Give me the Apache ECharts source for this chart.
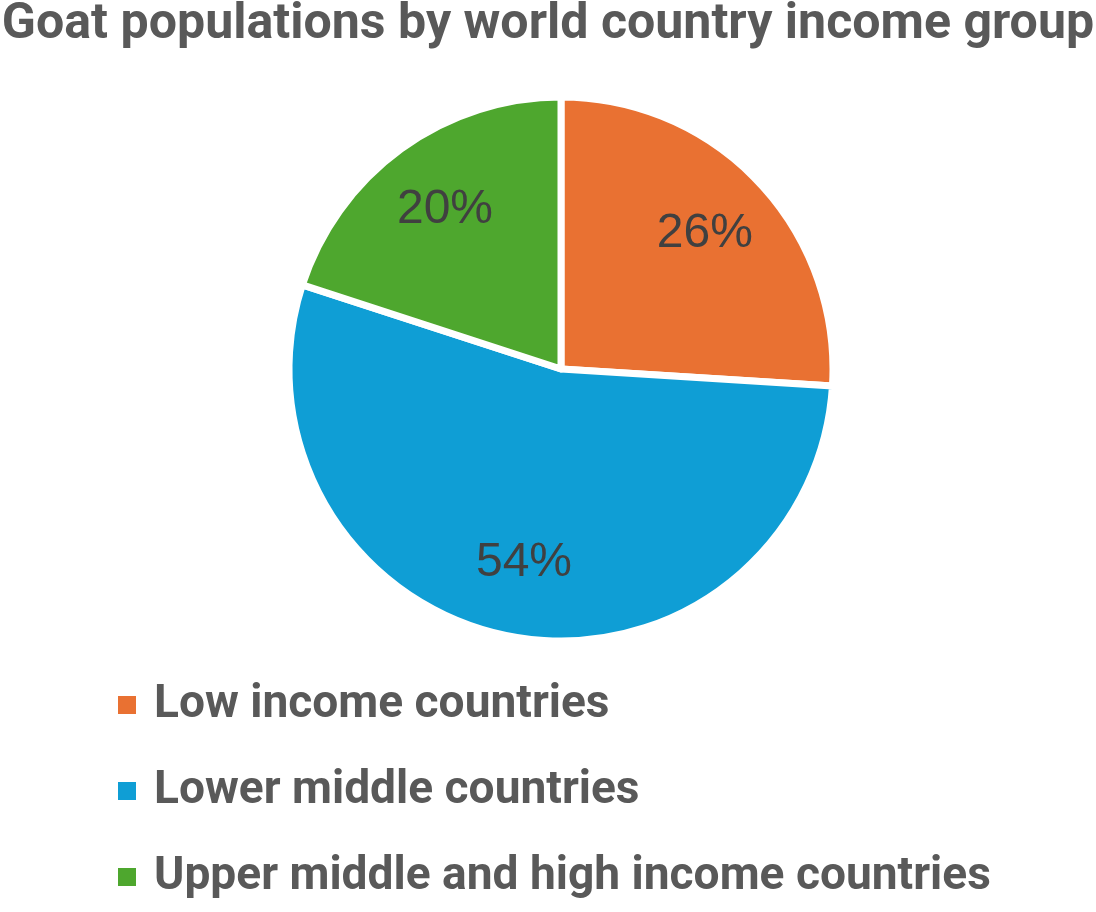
<!DOCTYPE html>
<html>
<head>
<meta charset="utf-8">
<script src="https://cdn.jsdelivr.net/npm/echarts@6/dist/echarts.min.js"></script>
<style>
html,body{margin:0;padding:0;background:#fff;}
#chart{width:1096px;height:912px;}
</style>
</head>
<body>
<div id="chart"></div>
<script>
const titleText = 'Goat populations by world country income group';
const categories = ['Low income countries', 'Lower middle countries', 'Upper middle and high income countries'];
const shares = [26, 54, 20];
const colors = ['#E97132', '#0F9ED5', '#4EA72E'];

const BOLD_FONT = 'Roboto, "Liberation Sans", sans-serif';
// fit font size so text spans a given width
function fitSize(text, width) {
  const ctx = document.createElement('canvas').getContext('2d');
  ctx.font = 'bold 100px ' + BOLD_FONT;
  return Math.floor(100 * width / ctx.measureText(text).width * 10) / 10;
}
const titleSize = fitSize(titleText, 1094);
const legendSize = fitSize(categories[2], 838);

const CX = 561, CY = 369, R = 272;
const chart = echarts.init(document.getElementById('chart'));
chart.setOption({
  backgroundColor: '#ffffff',
  animation: false,
  color: colors,
  title: {
    text: titleText,
    left: 'center',
    top: 0,
    padding: 0,
    textStyle: {
      fontFamily: BOLD_FONT,
      fontWeight: 'bold',
      fontSize: titleSize,
      color: '#595959'
    }
  },
  legend: {
    orient: 'vertical',
    left: 116,
    top: 680,
    padding: 0,
    icon: 'rect',
    itemWidth: 20,
    itemHeight: 20,
    itemGap: 36,
    textStyle: {
      fontFamily: BOLD_FONT,
      fontWeight: 'bold',
      fontSize: legendSize,
      lineHeight: 50,
      color: '#595959',
      padding: [0, 0, 0, 12]
    },
    data: categories
  },
  series: [{
    type: 'pie',
    center: [CX, CY],
    radius: R,
    startAngle: 90,
    clockwise: true,
    itemStyle: { borderColor: '#ffffff', borderWidth: 7 },
    label: {
      show: true,
      position: 'inside',
      formatter: '{d}%',
      fontFamily: '"Liberation Sans", Arial, sans-serif',
      fontSize: 48,
      color: '#404040'
    },
    labelLine: { show: false },
    emphasis: { disabled: true },
    labelLayout: function (p) {
      const r = p.labelRect;
      const lx = r.x + r.width / 2, ly = r.y + r.height / 2;
      return { dx: (lx - CX) * 0.42, dy: (ly - CY) * 0.42 };
    },
    data: categories.map((c, i) => ({ name: c, value: shares[i] }))
  }]
});
</script>
</body>
</html>
